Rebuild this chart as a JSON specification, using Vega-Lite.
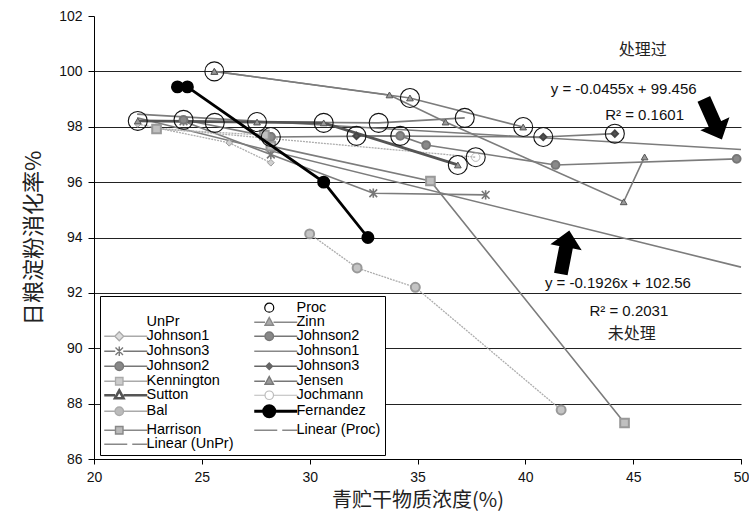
{
  "$schema": "https://vega.github.io/schema/vega-lite/v6.json",
  "width": 647,
  "height": 443,
  "autosize": {"type": "none"},
  "padding": {"left": 94, "top": 16, "right": 8, "bottom": 60},
  "background": "white",
  "config": {"view": {"stroke": null}, "font": "Liberation Sans"},
  "datasets": {
    "pts": [
      {"s": "Zinn", "x": 25.58, "y": 100.0}, {"s": "Zinn", "x": 34.65, "y": 99.04}, {"s": "Zinn", "x": 39.9, "y": 97.99},
      {"s": "Jensen", "x": 25.58, "y": 100.0}, {"s": "Jensen", "x": 33.7, "y": 99.15}, {"s": "Jensen", "x": 36.3, "y": 98.17}, {"s": "Jensen", "x": 44.56, "y": 95.29}, {"s": "Jensen", "x": 45.53, "y": 96.91},
      {"s": "p:Johnson2", "x": 28.2, "y": 97.63}, {"s": "p:Johnson2", "x": 34.2, "y": 97.67}, {"s": "p:Johnson2", "x": 35.4, "y": 97.34}, {"s": "p:Johnson2", "x": 41.4, "y": 96.62}, {"s": "p:Johnson2", "x": 49.8, "y": 96.84},
      {"s": "p:Johnson1", "x": 22.03, "y": 98.21}, {"s": "p:Johnson1", "x": 27.56, "y": 98.17}, {"s": "p:Johnson1", "x": 33.2, "y": 98.14}, {"s": "p:Johnson1", "x": 37.19, "y": 98.32},
      {"s": "p:Johnson3", "x": 32.17, "y": 97.67}, {"s": "p:Johnson3", "x": 40.83, "y": 97.63}, {"s": "p:Johnson3", "x": 44.15, "y": 97.75},
      {"s": "Jochmann", "x": 22.9, "y": 97.95}, {"s": "Jochmann", "x": 37.7, "y": 96.9},
      {"s": "Fernandez", "x": 23.87, "y": 99.44}, {"s": "Fernandez", "x": 24.33, "y": 99.44}, {"s": "Fernandez", "x": 30.65, "y": 96.0}, {"s": "Fernandez", "x": 32.7, "y": 94.0},
      {"s": "u:Johnson1", "x": 22.03, "y": 98.1}, {"s": "u:Johnson1", "x": 26.27, "y": 97.42}, {"s": "u:Johnson1", "x": 28.2, "y": 96.7},
      {"s": "u:Johnson3", "x": 24.15, "y": 98.2}, {"s": "u:Johnson3", "x": 28.2, "y": 97.0}, {"s": "u:Johnson3", "x": 32.95, "y": 95.6}, {"s": "u:Johnson3", "x": 38.16, "y": 95.54},
      {"s": "u:Johnson2", "x": 24.15, "y": 98.25}, {"s": "u:Johnson2", "x": 28.2, "y": 97.63},
      {"s": "Kennington", "x": 22.9, "y": 97.92}, {"s": "Kennington", "x": 27.9, "y": 97.7},
      {"s": "Sutton", "x": 22.03, "y": 98.21}, {"s": "Sutton", "x": 27.56, "y": 98.17}, {"s": "Sutton", "x": 30.65, "y": 98.14}, {"s": "Sutton", "x": 36.87, "y": 96.62},
      {"s": "Bal", "x": 30.0, "y": 94.13}, {"s": "Bal", "x": 32.2, "y": 92.9}, {"s": "Bal", "x": 34.9, "y": 92.2}, {"s": "Bal", "x": 41.66, "y": 87.77},
      {"s": "Harrison", "x": 28.2, "y": 97.3}, {"s": "Harrison", "x": 35.6, "y": 96.04}, {"s": "Harrison", "x": 44.6, "y": 87.3},
      {"s": "Linear (Proc)", "x": 22.0, "y": 98.455}, {"s": "Linear (Proc)", "x": 50.0, "y": 97.181},
      {"s": "Linear (UnPr)", "x": 22.0, "y": 98.323}, {"s": "Linear (UnPr)", "x": 50.0, "y": 92.93}
    ],
    "proc": [
      {"x": 22.03, "y": 98.21}, {"x": 24.15, "y": 98.25}, {"x": 25.58, "y": 100.0}, {"x": 25.6, "y": 98.14},
      {"x": 27.56, "y": 98.17}, {"x": 28.2, "y": 97.63}, {"x": 30.65, "y": 98.14}, {"x": 32.17, "y": 97.67},
      {"x": 33.2, "y": 98.14}, {"x": 34.2, "y": 97.67}, {"x": 34.65, "y": 99.04}, {"x": 36.87, "y": 96.62},
      {"x": 37.19, "y": 98.32}, {"x": 37.7, "y": 96.9}, {"x": 39.9, "y": 97.99}, {"x": 40.83, "y": 97.63},
      {"x": 44.15, "y": 97.75}
    ],
    "notes": [
      {"t": "处理过", "x": 45.44, "y": 100.77},
      {"t": "y = -0.0455x + 99.456", "x": 44.56, "y": 99.36},
      {"t": "R² = 0.1601", "x": 45.53, "y": 98.43},
      {"t": "y = -0.1926x + 102.56", "x": 44.29, "y": 92.36},
      {"t": "R² = 0.2031", "x": 44.8, "y": 91.35},
      {"t": "未处理", "x": 44.93, "y": 90.52}
    ],
    "arrows": [
      {"x": 48.69, "y": 98.28, "a": 156},
      {"x": 41.84, "y": 93.46, "a": 11}
    ],
    "keys": [
      {"key": "_b1"}, {"key": "UnPr"}, {"key": "u:Johnson1"}, {"key": "u:Johnson3"}, {"key": "u:Johnson2"},
      {"key": "Kennington"}, {"key": "Sutton"}, {"key": "Bal"}, {"key": "Harrison"}, {"key": "Linear (UnPr)"},
      {"key": "Proc"}, {"key": "Zinn"}, {"key": "p:Johnson2"}, {"key": "p:Johnson1"}, {"key": "p:Johnson3"},
      {"key": "Jensen"}, {"key": "Jochmann"}, {"key": "Fernandez"}, {"key": "Linear (Proc)"}, {"key": "_b2"}
    ]
  },
  "encoding": {
    "x": {
      "field": "x", "type": "quantitative",
      "scale": {"domain": [20, 50], "nice": false, "zero": false},
      "axis": {
        "title": "青贮干物质浓度(%)", "values": [20, 25, 30, 35, 40, 45, 50], "grid": false,
        "domainColor": "#000", "tickColor": "#000", "tickSize": 5, "labelFontSize": 14, "labelColor": "#111",
        "labelPadding": 6, "labelFlush": false, "titleFont": "Noto Sans CJK SC", "titleFontSize": 20,
        "titleFontWeight": "normal", "titleColor": "#222", "titlePadding": 6
      }
    },
    "y": {
      "field": "y", "type": "quantitative",
      "scale": {"domain": [86, 102], "nice": false, "zero": false},
      "axis": {
        "title": "日粮淀粉消化率%", "values": [86, 88, 90, 92, 94, 96, 98, 100, 102], "grid": true,
        "gridColor": {"condition": {"test": "datum.value >= 102", "value": "transparent"}, "value": "#222"},
        "gridWidth": 1.2, "domainColor": "#000", "tickColor": "#000", "tickSize": 6, "labelFontSize": 14,
        "labelColor": "#111", "labelPadding": 6, "labelFlush": false, "titleFont": "Noto Sans CJK SC",
        "titleFontSize": 22, "titleFontWeight": "normal", "titleColor": "#222", "titlePadding": 13
      }
    }
  },
  "layer": [
    {
      "data": {"name": "pts"},
      "transform": [{"filter": {"field": "s", "oneOf": ["Zinn", "Jensen", "p:Johnson2", "p:Johnson1", "p:Johnson3", "u:Johnson3", "u:Johnson2", "Harrison", "Linear (UnPr)", "Linear (Proc)"]}}],
      "mark": {"type": "line", "color": "#7c7c7c", "strokeWidth": 1.6},
      "encoding": {"detail": {"field": "s"}}
    },
    {
      "data": {"name": "pts"},
      "transform": [{"filter": {"field": "s", "oneOf": ["u:Johnson1", "Kennington", "Bal", "Jochmann"]}}],
      "mark": {"type": "line", "color": "#adadad", "strokeWidth": 1.3, "strokeDash": [2, 1]},
      "encoding": {"detail": {"field": "s"}}
    },
    {
      "data": {"name": "pts"},
      "transform": [{"filter": {"field": "s", "equal": "Sutton"}}],
      "mark": {"type": "line", "color": "#555", "strokeWidth": 2.8},
      "encoding": {}
    },
    {
      "data": {"name": "pts"},
      "transform": [{"filter": {"field": "s", "equal": "u:Johnson1"}}],
      "mark": {"type": "point", "shape": "diamond", "filled": true, "fill": "#d0d0d0", "stroke": "#999", "strokeWidth": 1, "size": 45, "opacity": 1}
    },
    {
      "data": {"name": "pts"},
      "transform": [{"filter": {"field": "s", "equal": "p:Johnson3"}}],
      "mark": {"type": "point", "shape": "diamond", "filled": true, "fill": "#555", "stroke": "#444", "size": 40, "opacity": 1}
    },
    {
      "data": {"name": "pts"},
      "transform": [{"filter": {"field": "s", "equal": "u:Johnson3"}}],
      "mark": {"type": "point", "shape": "M-1,-1L1,1M1,-1L-1,1M0,-1.2V1.2", "filled": false, "stroke": "#777", "strokeWidth": 1.6, "size": 60, "opacity": 1}
    },
    {
      "data": {"name": "pts"},
      "transform": [{"filter": {"field": "s", "oneOf": ["u:Johnson2", "p:Johnson2"]}}],
      "mark": {"type": "point", "shape": "circle", "filled": true, "fill": "#8a8a8a", "stroke": "#777", "size": 60, "opacity": 1}
    },
    {
      "data": {"name": "pts"},
      "transform": [{"filter": {"field": "s", "equal": "Bal"}}],
      "mark": {"type": "point", "shape": "circle", "filled": true, "fill": "#c4c4c4", "stroke": "#999", "size": 80, "opacity": 1}
    },
    {
      "data": {"name": "pts"},
      "transform": [{"filter": {"field": "s", "equal": "Jochmann"}}],
      "mark": {"type": "point", "shape": "circle", "filled": false, "stroke": "#bbb", "strokeWidth": 1, "size": 70, "opacity": 1}
    },
    {
      "data": {"name": "pts"},
      "transform": [{"filter": {"field": "s", "oneOf": ["Kennington", "Harrison"]}}],
      "mark": {"type": "point", "shape": "square", "filled": true, "fill": "#c0c0c0", "stroke": "#999", "size": 75, "opacity": 1}
    },
    {
      "data": {"name": "pts"},
      "transform": [{"filter": {"field": "s", "oneOf": ["Sutton", "Zinn", "Jensen"]}}],
      "mark": {"type": "point", "shape": "triangle-up", "filled": true, "fill": "#999", "stroke": "#555", "strokeWidth": 1, "size": 45, "opacity": 1}
    },
    {
      "data": {"name": "proc"},
      "mark": {"type": "point", "shape": "circle", "filled": false, "stroke": "#111", "strokeWidth": 1.1, "size": 360, "opacity": 1}
    },
    {
      "data": {"name": "pts"},
      "transform": [{"filter": {"field": "s", "equal": "Fernandez"}}],
      "mark": {"type": "line", "color": "#000", "strokeWidth": 2.8},
      "encoding": {}
    },
    {
      "data": {"name": "pts"},
      "transform": [{"filter": {"field": "s", "equal": "Fernandez"}}],
      "mark": {"type": "point", "shape": "circle", "filled": true, "fill": "#000", "stroke": "#000", "size": 120, "opacity": 1}
    },
    {
      "data": {"name": "notes"},
      "transform": [{"filter": {"field": "t", "oneOf": ["处理过", "未处理"]}}],
      "mark": {"type": "text", "font": "Noto Sans CJK SC", "fontSize": 16, "color": "#222", "align": "center", "baseline": "middle"},
      "encoding": {"text": {"field": "t"}}
    },
    {
      "data": {"name": "notes"},
      "transform": [{"filter": {"not": {"field": "t", "oneOf": ["处理过", "未处理"]}}}],
      "mark": {"type": "text", "font": "Liberation Sans", "fontSize": 15, "color": "#111", "align": "center", "baseline": "middle"},
      "encoding": {"text": {"field": "t"}}
    },
    {
      "data": {"name": "arrows"},
      "mark": {"type": "point", "shape": "M-0.28,1L0.28,1L0.28,-0.3L0.65,-0.3L0,-1L-0.65,-0.3L-0.28,-0.3Z", "filled": true, "fill": "#000", "stroke": "#000", "size": 1764, "opacity": 1},
      "encoding": {"angle": {"field": "a", "type": "quantitative", "scale": null}}
    },
    {
      "data": {"name": "keys"},
      "mark": {"type": "point", "filled": true, "opacity": 0},
      "encoding": {
        "x": {"value": 0},
        "y": {"value": 0},
        "shape": {
          "field": "key", "type": "nominal",
          "scale": {
            "domain": ["_b1", "UnPr", "u:Johnson1", "u:Johnson3", "u:Johnson2", "Kennington", "Sutton", "Bal", "Harrison", "Linear (UnPr)", "Proc", "Zinn", "p:Johnson2", "p:Johnson1", "p:Johnson3", "Jensen", "Jochmann", "Fernandez", "Linear (Proc)", "_b2"],
            "range": [
              "M0,0",
              "M0,0",
              "M-1.4,0H0.7M2.5,0H7.2M1.6,-0.9L2.5,0L1.6,0.9L0.7,0Z",
              "M-1.4,0H0.8M2.4,0H7.2M0.85,-0.75L2.35,0.75M2.35,-0.75L0.85,0.75M1.6,-0.95V0.95",
              "M-1.4,0H0.75M2.45,0H7.2M0.75,0A0.85,0.85 0 1,0 2.45,0A0.85,0.85 0 1,0 0.75,0Z",
              "M-1.4,0H0.85M2.35,0H7.2M0.85,-0.75H2.35V0.75H0.85Z",
              "M-1.4,0H0.75M2.45,0H7.2M1.6,-0.95L2.45,0.6H0.75Z",
              "M-1.4,0H0.75M2.45,0H7.2M0.75,0A0.85,0.85 0 1,0 2.45,0A0.85,0.85 0 1,0 0.75,0Z",
              "M-1.4,0H0.85M2.35,0H7.2M0.85,-0.75H2.35V0.75H0.85Z",
              "M-1.4,0H3.2M4.2,0H7.2",
              "M0.7,0A0.9,0.9 0 1,0 2.5,0A0.9,0.9 0 1,0 0.7,0Z",
              "M-1.4,0H0.75M2.45,0H7.2M1.6,-0.95L2.45,0.6H0.75Z",
              "M-1.4,0H0.75M2.45,0H7.2M0.75,0A0.85,0.85 0 1,0 2.45,0A0.85,0.85 0 1,0 0.75,0Z",
              "M-1.4,0H7.2",
              "M-1.4,0H0.95M2.25,0H7.2M1.6,-0.65L2.25,0L1.6,0.65L0.95,0Z",
              "M-1.4,0H0.75M2.45,0H7.2M1.6,-0.95L2.45,0.6H0.75Z",
              "M-1.4,0H0.75M2.45,0H7.2M0.75,0A0.85,0.85 0 1,0 2.45,0A0.85,0.85 0 1,0 0.75,0Z",
              "M-1.4,0H0.5M2.7,0H7.2M0.5,0A1.1,1.1 0 1,0 2.7,0A1.1,1.1 0 1,0 0.5,0Z",
              "M-1.4,0H3.2M4.2,0H7.2",
              "M0,0"
            ]
          },
          "legend": {
            "orient": "none", "legendX": 6, "legendY": 280, "columns": 2, "title": null,
            "symbolSize": 100, "symbolOpacity": 1, "labelOffset": 28, "labelFont": "Liberation Sans",
            "labelFontSize": 14.5, "labelColor": "#000", "labelLimit": 200, "rowPadding": -5.4, "columnPadding": 14,
            "padding": 4, "strokeColor": "#000", "fillColor": "#fff",
            "labelExpr": "indexof(datum.label, '_') === 0 ? '' : (indexof(datum.label, ':') > 0 ? slice(datum.label, 2) : datum.label)"
          }
        },
        "stroke": {
          "field": "key", "type": "nominal",
          "scale": {
            "domain": ["_b1", "UnPr", "u:Johnson1", "u:Johnson3", "u:Johnson2", "Kennington", "Sutton", "Bal", "Harrison", "Linear (UnPr)", "Proc", "Zinn", "p:Johnson2", "p:Johnson1", "p:Johnson3", "Jensen", "Jochmann", "Fernandez", "Linear (Proc)", "_b2"],
            "range": ["transparent", "transparent", "#aaa", "#777", "#777", "#aaa", "#555", "#aaa", "#888", "#888", "#000", "#888", "#777", "#888", "#666", "#777", "#bbb", "#000", "#888", "transparent"]
          },
          "legend": {"title": null}
        },
        "fill": {
          "field": "key", "type": "nominal",
          "scale": {
            "domain": ["_b1", "UnPr", "u:Johnson1", "u:Johnson3", "u:Johnson2", "Kennington", "Sutton", "Bal", "Harrison", "Linear (UnPr)", "Proc", "Zinn", "p:Johnson2", "p:Johnson1", "p:Johnson3", "Jensen", "Jochmann", "Fernandez", "Linear (Proc)", "_b2"],
            "range": ["transparent", "transparent", "#ddd", "transparent", "#888", "#ccc", "#fff", "#bbb", "#bbb", "transparent", "#fff", "#aaa", "#888", "transparent", "#666", "#999", "#fff", "#000", "transparent", "transparent"]
          },
          "legend": {"title": null}
        },
        "strokeWidth": {
          "field": "key", "type": "nominal",
          "scale": {
            "type": "ordinal",
            "domain": ["_b1", "UnPr", "u:Johnson1", "u:Johnson3", "u:Johnson2", "Kennington", "Sutton", "Bal", "Harrison", "Linear (UnPr)", "Proc", "Zinn", "p:Johnson2", "p:Johnson1", "p:Johnson3", "Jensen", "Jochmann", "Fernandez", "Linear (Proc)", "_b2"],
            "range": [0, 0, 1.3, 1.4, 1.4, 1.3, 2.6, 1.3, 1.4, 1.4, 1.2, 1.4, 1.4, 1.4, 1.4, 1.4, 1.2, 3, 1.4, 0]
          },
          "legend": {"title": null}
        }
      }
    }
  ]
}
